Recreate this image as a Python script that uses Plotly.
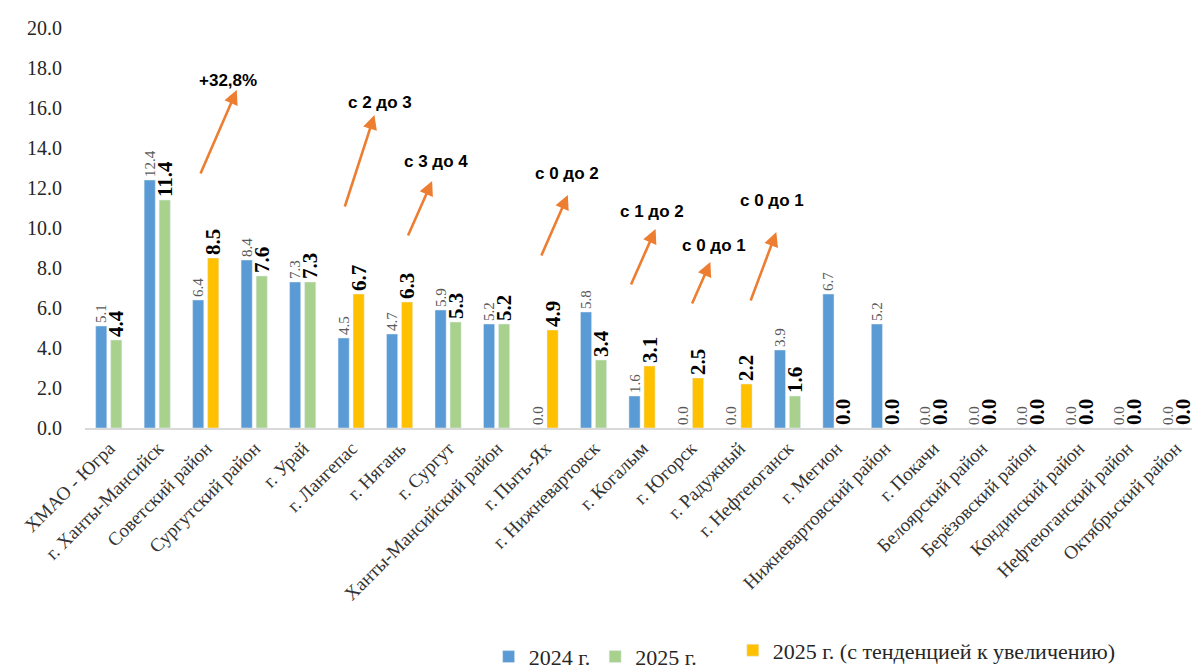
import plotly.graph_objects as go

categories = [
    "ХМАО - Югра", "г. Ханты-Мансийск", "Советский район", "Сургутский район",
    "г. Урай", "г. Лангепас", "г. Нягань", "г. Сургут", "Ханты-Мансийский район",
    "г. Пыть-Ях", "г. Нижневартовск", "г. Когалым", "г. Югорск", "г. Радужный",
    "г. Нефтеюганск", "г. Мегион", "Нижневартовский район", "г. Покачи",
    "Белоярский район", "Берёзовский район", "Кондинский район",
    "Нефтеюганский район", "Октябрьский район",
]
v2024 = [5.1, 12.4, 6.4, 8.4, 7.3, 4.5, 4.7, 5.9, 5.2, 0.0, 5.8, 1.6, 0.0, 0.0,
         3.9, 6.7, 5.2, 0.0, 0.0, 0.0, 0.0, 0.0, 0.0]
v2025 = [4.4, 11.4, None, 7.6, 7.3, None, None, 5.3, 5.2, None, 3.4, None, None, None,
         1.6, 0.0, 0.0, 0.0, 0.0, 0.0, 0.0, 0.0, 0.0]
v2025_up = [None, None, 8.5, None, None, 6.7, 6.3, None, None, 4.9, None, 3.1, 2.5, 2.2,
            None, None, None, None, None, None, None, None, None]

trend_labels = ["+32,8%", "с 2 до 3", "с 3 до 4", "с 0 до 2", "с 1 до 2", "с 0 до 1", "с 0 до 1"]
# (tail_x, tail_y, head_x, head_y, text_x, text_y) in axis coordinates
trend_arrows = [
    (1.87, 12.65, 2.63, 16.9, 2.44, 17.4),
    (4.85, 11.0, 5.47, 15.65, 5.59, 16.3),
    (6.15, 9.55, 6.66, 12.35, 6.74, 13.35),
    (8.90, 8.55, 9.46, 11.65, 9.44, 12.75),
    (10.75, 7.1, 11.27, 9.95, 11.19, 10.85),
    (12.01, 6.15, 12.40, 8.3, 12.48, 9.15),
    (13.22, 6.3, 13.76, 9.8, 13.68, 11.4),
]

SERIF = "Liberation Serif"
BW = 0.23

fig = go.Figure()
fig.add_trace(go.Bar(
    x=categories, y=v2024, name="2024 г.", marker_color="#5B9BD5",
    width=BW, offset=-0.28, legend="legend",
    texttemplate="%{y:.1f}", textposition="outside", textangle=-90,
    textfont=dict(family=SERIF, size=15, color="#595959"),
    constraintext="none", cliponaxis=False,
))
fig.add_trace(go.Bar(
    x=categories, y=v2025, name="2025 г.", marker_color="#A9D18E",
    width=BW, offset=0.03, legend="legend",
    texttemplate="<b>%{y:.1f}</b>", textposition="outside", textangle=-90,
    textfont=dict(family=SERIF, size=21, color="#000000"),
    constraintext="none", cliponaxis=False,
))
fig.add_trace(go.Bar(
    x=categories, y=v2025_up, name="2025 г. (с тенденцией к увеличению)",
    marker_color="#FFC000",
    width=BW, offset=0.03, legend="legend2",
    texttemplate="<b>%{y:.1f}</b>", textposition="outside", textangle=-90,
    textfont=dict(family=SERIF, size=21, color="#000000"),
    constraintext="none", cliponaxis=False,
))

annotations = []
for lab, (tx, ty, hx, hy, lx, ly) in zip(trend_labels, trend_arrows):
    annotations.append(dict(
        x=hx, y=hy, ax=tx, ay=ty, xref="x", yref="y", axref="x", ayref="y",
        text="", showarrow=True, arrowhead=2, arrowsize=1.1, arrowwidth=2.6,
        arrowcolor="#ED7D31",
    ))
    annotations.append(dict(
        x=lx, y=ly, xref="x", yref="y", text="<b>" + lab + "</b>", showarrow=False,
        font=dict(family="Liberation Sans", size=17, color="#000000"),
    ))

legend_font = dict(family=SERIF, size=22, color="#262626")

fig.update_layout(
    width=1200, height=672,
    barmode="overlay",
    plot_bgcolor="white", paper_bgcolor="white",
    margin=dict(l=77, r=8, t=20, b=252, autoexpand=False),
    annotations=annotations,
    showlegend=True,
    legend=dict(
        orientation="h", x=0.362, xanchor="left", y=-0.572, yanchor="middle",
        font=legend_font, bgcolor="rgba(0,0,0,0)",
    ),
    legend2=dict(
        orientation="h", x=0.581, xanchor="left", y=-0.556, yanchor="middle",
        font=legend_font, bgcolor="rgba(0,0,0,0)",
    ),
    xaxis=dict(
        type="category", tickangle=-45, showgrid=False,
        showline=True, linecolor="#D9D9D9", linewidth=1.5,
        tickfont=dict(family=SERIF, size=19, color="#333333"),
        range=[-0.5, len(categories) - 0.5],
    ),
    yaxis=dict(
        range=[0, 20], dtick=2, tickformat=".1f", showgrid=False,
        zeroline=False, showline=False, ticklabelstandoff=22,
        tickfont=dict(family=SERIF, size=20, color="#262626"),
    ),
)

fig.write_html("out.html")
